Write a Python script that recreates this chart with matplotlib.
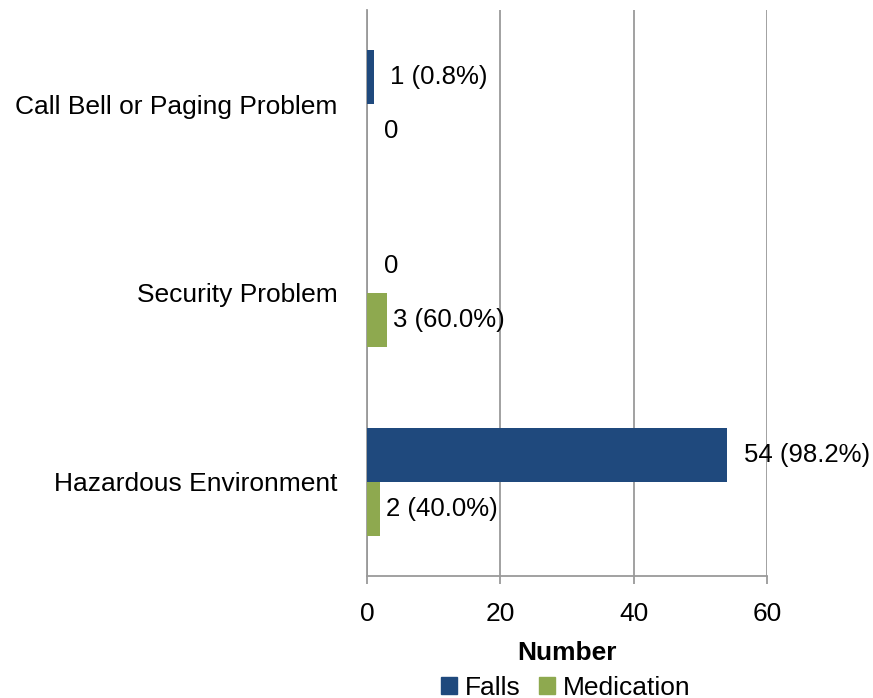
import numpy as np
import matplotlib.pyplot as plt
from matplotlib.patches import Patch

plt.rcParams['font.family'] = ['Liberation Sans', 'DejaVu Sans']

categories = ['Call Bell or Paging Problem', 'Security Problem', 'Hazardous Environment']
falls = [1, 0, 54]
falls_pct = [0.8, None, 98.2]
medication = [0, 3, 2]
medication_pct = [None, 60.0, 40.0]
xticks = [0, 20, 40, 60]

c_falls = '#1F497D'
c_med = '#8EA94F'
grid_c = '#9A9A9A'
fs = 19

fig = plt.figure(figsize=(8.73, 6.98), dpi=100)
ax = fig.add_axes([0.4204, 0.1748, 0.4582, 0.8109])

y = np.arange(len(categories))
h = 0.286
ax.barh(y - h / 2, falls, height=h, color=c_falls, zorder=3)
ax.barh(y + h / 2, medication, height=h, color=c_med, zorder=3)


def lab(v, p):
    return '0' if v == 0 else '%d (%.1f%%)' % (v, p)


for i in range(len(categories)):
    ax.annotate(lab(falls[i], falls_pct[i]), (falls[i], y[i] - h / 2),
                xytext=(12, 0), textcoords='offset points',
                va='center', ha='left', fontsize=18.5)
    off = 12 if medication[i] == 0 else 4
    ax.annotate(lab(medication[i], medication_pct[i]), (medication[i], y[i] + h / 2),
                xytext=(off, 0), textcoords='offset points',
                va='center', ha='left', fontsize=18.5)

ax.set_xlim(0, 60)
ax.set_ylim(2.5, -0.5)
ax.set_xticks(xticks)
ax.set_yticks(y)
ax.set_yticklabels(categories, fontsize=fs)
ax.tick_params(axis='y', length=0, pad=21)
ax.tick_params(axis='x', length=6, width=1.3, color=grid_c, pad=12.5, labelsize=fs)
ax.grid(axis='x', color=grid_c, linewidth=1.3, zorder=0)

for s in ['top', 'right']:
    ax.spines[s].set_visible(False)
for s in ['left', 'bottom']:
    ax.spines[s].set_color(grid_c)
    ax.spines[s].set_linewidth(1.3)

ax.set_xlabel('Number', fontsize=fs, fontweight='bold', labelpad=11)

handles = [Patch(color=c_falls, label='Falls'), Patch(color=c_med, label='Medication')]
fig.legend(handles=handles, loc='center', bbox_to_anchor=(0.648, 0.015), ncol=2,
           frameon=False, fontsize=fs, handlelength=0.6, handleheight=0.6,
           handletextpad=0.3, columnspacing=0.7)

fig.savefig('out.png', dpi=100)
